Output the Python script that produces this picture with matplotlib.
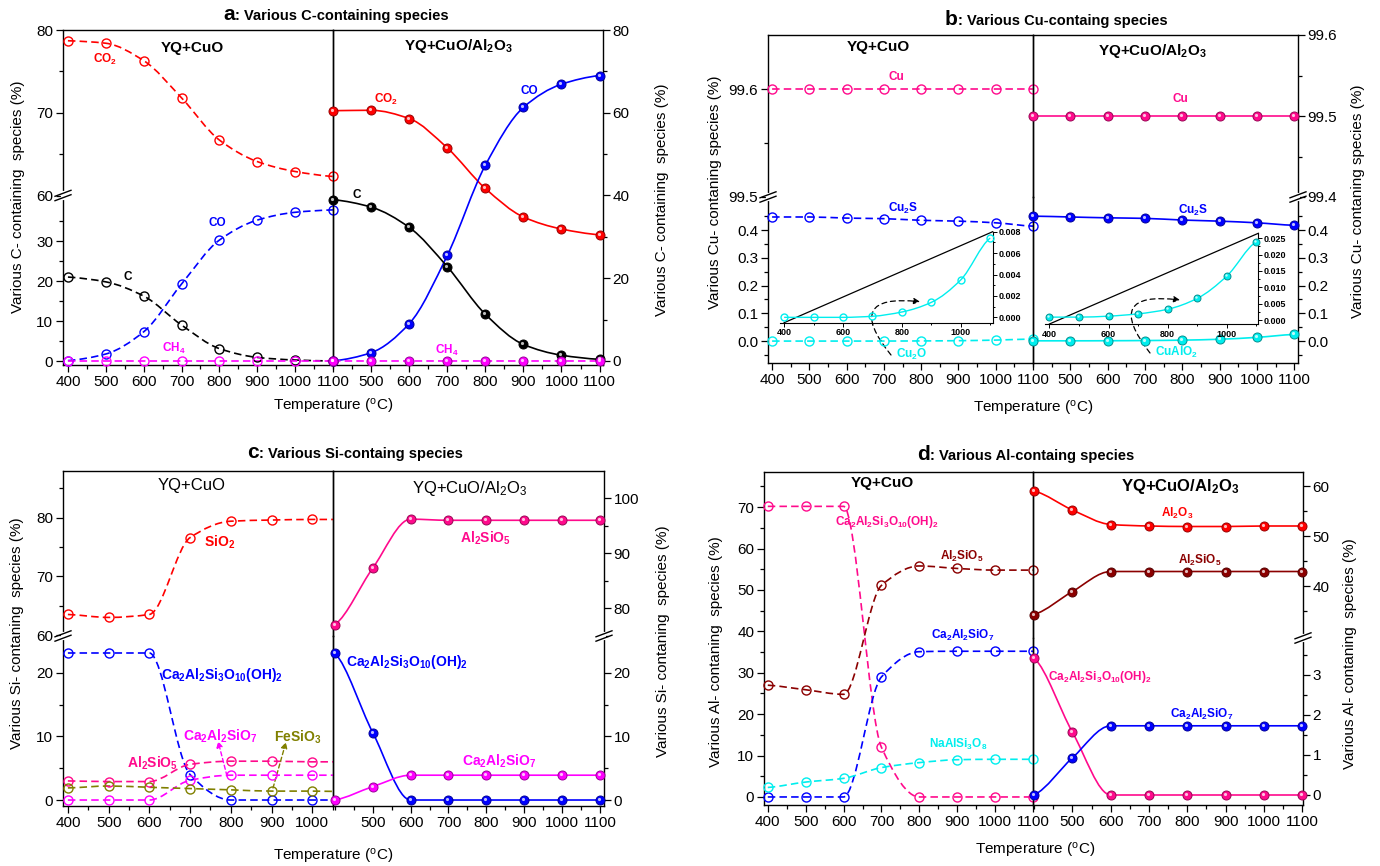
import numpy as np
import matplotlib.pyplot as plt
from matplotlib.path import Path
from matplotlib.patches import PathPatch
from matplotlib.lines import Line2D
from matplotlib.ticker import MultipleLocator, FixedLocator, FormatStrFormatter
import matplotlib.transforms as mtransforms

plt.rcParams['font.family'] = ['Liberation Sans', 'DejaVu Sans']
plt.rcParams['mathtext.fontset'] = 'custom'
plt.rcParams['mathtext.rm'] = 'Liberation Sans'
plt.rcParams['mathtext.default'] = 'regular'

# ---- data (temperature in oC, values in %) ----
T = [400, 500, 600, 700, 800, 900, 1000, 1100]

# a: C-containing species
a_co2_1 = [78.7, 78.4, 76.3, 71.8, 66.7, 64.1, 62.9, 62.3]
a_co_1 = [0.1, 1.75, 7.3, 19.25, 30.25, 35.25, 37.2, 37.8]
a_c_1 = [21.0, 19.8, 16.25, 9.0, 3.1, 0.9, 0.25, 0.0]
a_ch4_1 = [0, 0, 0, 0, 0, 0, 0, 0]
a_co2_2 = [60.5, 60.6, 58.6, 51.5, 41.7, 34.8, 31.9, 30.5]
a_co_2 = [0.0, 2.0, 9.0, 25.5, 47.3, 61.3, 66.9, 69.0]
a_c_2 = [39.0, 37.2, 32.3, 22.8, 11.3, 4.0, 1.4, 0.4]
a_ch4_2 = [0, 0, 0, 0, 0, 0, 0, 0]

# b: Cu-containing species
b_cu_1 = [99.6, 99.6, 99.6, 99.6, 99.6, 99.6, 99.6, 99.6]
b_cu2s_1 = [0.447, 0.447, 0.443, 0.441, 0.435, 0.432, 0.426, 0.414]
b_cu2o_1 = [0.0, 0.0, 0.0, 0.0001, 0.0005, 0.0014, 0.0035, 0.0074]
b_cu_2 = [99.5, 99.5, 99.5, 99.5, 99.5, 99.5, 99.5, 99.5]
b_cu2s_2 = [0.450, 0.447, 0.444, 0.442, 0.436, 0.432, 0.426, 0.417]
b_cualo2_2 = [0.0009, 0.0009, 0.0012, 0.0019, 0.0033, 0.0066, 0.0134, 0.0239]

# c: Si-containing species
c_sio2_1 = [63.5, 63.0, 63.5, 76.6, 79.4, 79.6, 79.7, 79.7]
c_prehn_1 = [23.1, 23.1, 23.1, 4.0, 0.0, 0.0, 0.0, 0.0]
c_al2sio5_1 = [3.0, 2.9, 2.9, 5.6, 6.1, 6.1, 6.0, 6.0]
c_gehl_1 = [0.0, 0.0, 0.0, 3.1, 3.9, 3.9, 3.9, 3.9]
c_fesio3_1 = [1.9, 2.2, 2.0, 1.8, 1.6, 1.4, 1.4, 1.3]
c_al2sio5_2 = [77.0, 87.3, 96.2, 96.0, 96.0, 96.0, 96.0, 96.0]
c_prehn_2 = [23.1, 10.6, 0.0, 0.0, 0.0, 0.0, 0.0, 0.0]
c_gehl_2 = [0.0, 2.1, 3.9, 3.9, 3.9, 3.9, 3.9, 3.9]

# d: Al-containing species
d_prehn_1 = [70.2, 70.2, 70.2, 12.0, 0.0, 0.0, 0.0, 0.0]
d_al2sio5_1 = [27.0, 25.9, 24.8, 51.1, 55.8, 55.2, 54.8, 54.8]
d_gehl_1 = [0.0, 0.0, 0.0, 29.0, 35.1, 35.2, 35.2, 35.2]
d_albite_1 = [2.3, 3.6, 4.5, 7.1, 8.3, 9.0, 9.1, 9.1]
d_al2o3_2 = [59.0, 55.2, 52.3, 52.0, 51.9, 51.9, 52.0, 52.0]
d_al2sio5_2 = [34.3, 38.9, 42.9, 42.9, 42.9, 42.9, 42.9, 42.9]
d_prehn_2 = [3.43, 1.57, 0.0, 0.0, 0.0, 0.0, 0.0, 0.0]
d_gehl_2 = [0.0, 0.93, 1.73, 1.73, 1.73, 1.73, 1.73, 1.73]

RED = '#FF0000'
BLUE = '#0000FF'
MAG = '#FF00FF'
PINK = '#FF0A8C'
CYAN = '#00EEEE'
DRED = '#8B0000'
OLIVE = '#808000'
DASH = (0, (4.5, 2.5))

W, H = 1380, 866
fig = plt.figure(figsize=(W / 100, H / 100), dpi=100)


def new_ax(x0, y0, x1, y1):
    ax = fig.add_axes([x0 / W, 1 - y1 / H, (x1 - x0) / W, (y1 - y0) / H])
    ax.set_facecolor('none')
    return ax


def style(ax, side, seg, xlim, ylim, major, minor, fmt='%d', xticks=None):
    ax.set_xlim(*xlim)
    ax.set_ylim(*ylim)
    for s in ax.spines.values():
        s.set_linewidth(1.0)
    ax.tick_params(which='both', direction='out', labelsize=11, width=0.9, pad=2)
    ax.tick_params(which='major', length=5)
    ax.tick_params(which='minor', length=3)
    ax.yaxis.set_major_locator(FixedLocator(major))
    ax.yaxis.set_minor_locator(FixedLocator(minor))
    ax.yaxis.set_major_formatter(FormatStrFormatter(fmt))
    if side == 'L':
        ax.tick_params(axis='y', which='both', left=True, right=False,
                       labelleft=True, labelright=False)
    else:
        ax.tick_params(axis='y', which='both', left=False, right=True,
                       labelleft=False, labelright=True)
    if seg == 'top':
        ax.spines['bottom'].set_visible(False)
        ax.tick_params(axis='x', which='both', bottom=False, top=False, labelbottom=False)
    else:
        if seg == 'bot':
            ax.spines['top'].set_visible(False)
        ax.tick_params(axis='x', which='both', top=False)
        ax.xaxis.set_major_locator(FixedLocator(xticks))
        ax.xaxis.set_minor_locator(MultipleLocator(50))


def mono_path(xs, ys):
    xs = np.asarray(xs, float)
    ys = np.asarray(ys, float)
    n = len(xs)
    h = np.diff(xs)
    d = np.diff(ys) / h
    m = np.zeros(n)
    m[0] = d[0] * 0.5
    m[-1] = d[-1] * 0.5
    for i in range(1, n - 1):
        if d[i - 1] * d[i] > 0:
            w1 = 2 * h[i] + h[i - 1]
            w2 = h[i] + 2 * h[i - 1]
            m[i] = (w1 + w2) / (w1 / d[i - 1] + w2 / d[i])
    verts = [(xs[0], ys[0])]
    codes = [Path.MOVETO]
    for i in range(n - 1):
        verts += [(xs[i] + h[i] / 3, ys[i] + m[i] * h[i] / 3),
                  (xs[i + 1] - h[i] / 3, ys[i + 1] - m[i + 1] * h[i] / 3),
                  (xs[i + 1], ys[i + 1])]
        codes += [Path.CURVE4] * 3
    return Path(verts, codes)


def shade(c, f=0.6):
    r, g, b, _ = plt.matplotlib.colors.to_rgba(c)
    return (r * f, g * f, b * f)


def curve(ax, x, y, color, ls, filled, ms=6.5, lw=1.2):
    ax.add_patch(PathPatch(mono_path(x, y), fill=False, ec=color, lw=lw, ls=ls, zorder=3))
    lo, hi = ax.get_xlim()
    xs = [a for a in x if lo - 5 <= a <= hi + 5]
    ys = [b for a, b in zip(x, y) if lo - 5 <= a <= hi + 5]
    if filled:
        ax.plot(xs, ys, 'o', ms=ms, mfc=color, mec=shade(color), mew=0.7,
                clip_on=False, zorder=5)
        off = mtransforms.ScaledTranslation(-1.0 / 100, 1.0 / 100, fig.dpi_scale_trans)
        ax.plot(xs, ys, 'o', ms=ms * 0.35, mfc='white', mec='none', alpha=0.75,
                clip_on=False, zorder=6, transform=ax.transData + off)
    else:
        ax.plot(xs, ys, 'o', ms=ms, mfc='none', mec=color, mew=1.0,
                clip_on=False, zorder=5)


def ft(x, y, s, **kw):
    kw.setdefault('ha', 'center')
    kw.setdefault('va', 'center')
    fig.text(x / W, 1 - y / H, s, **kw)


def brk(x, y):
    t = fig.transFigure
    fig.add_artist(Line2D([x / W, x / W], [1 - (y - 2.2) / H, 1 - (y + 2.2) / H],
                          color='white', lw=3, transform=t, zorder=20))
    for dy in (-2.2, 2.2):
        fig.add_artist(Line2D([(x - 8) / W, (x + 8) / W],
                              [1 - (y + dy + 3) / H, 1 - (y + dy - 3) / H],
                              color='black', lw=1.0, transform=t, zorder=21))


def title(x, y, letter, rest):
    ft(x, y, letter, ha='left', va='baseline', fontsize=15, fontweight='bold')
    ft(x + (13 if letter in 'bd' else 12), y, rest, ha='left', va='baseline',
       fontsize=10.5, fontweight='bold')


def inset(x0, y0, x1, y1, xlim, ylim, ystep, fmt):
    ax = new_ax(x0, y0, x1, y1)
    ax.set_xlim(*xlim)
    ax.set_ylim(*ylim)
    ax.spines['left'].set_visible(False)
    ax.spines['top'].set_visible(False)
    for s in ('bottom', 'right'):
        ax.spines[s].set_linewidth(0.8)
    ax.xaxis.set_major_locator(FixedLocator([400, 600, 800, 1000]))
    ax.xaxis.set_minor_locator(FixedLocator([500, 700, 900, 1100]))
    ax.yaxis.set_major_locator(MultipleLocator(ystep))
    ax.yaxis.set_minor_locator(MultipleLocator(ystep / 2))
    ax.yaxis.set_major_formatter(FormatStrFormatter(fmt))
    ax.tick_params(which='both', direction='out', labelsize=6.5, width=0.7, pad=1)
    ax.tick_params(which='major', length=3)
    ax.tick_params(which='minor', length=1.5)
    ax.tick_params(axis='y', which='both', left=False, right=True,
                   labelleft=False, labelright=True)
    ax.tick_params(axis='x', which='both', top=False)
    plt.setp(ax.get_xticklabels(), fontweight='bold')
    plt.setp(ax.get_yticklabels(), fontweight='bold')
    ax.plot([400, xlim[1]], [ylim[0], ylim[1]], color='black', lw=0.9, clip_on=False)
    return ax


XT1 = [400, 500, 600, 700, 800, 900, 1000, 1100]
XT2 = [500, 600, 700, 800, 900, 1000, 1100]

# ================= panel a =================
aLt = new_ax(63, 30, 333, 195.5)
aLb = new_ax(63, 195.5, 333, 365)
aR = new_ax(333, 30, 603, 365)
style(aLt, 'L', 'top', (387, 1100), (60, 80), [60, 70, 80], [65, 75])
style(aLb, 'L', 'bot', (387, 1100), (-1.0, 41.4), [0, 10, 20, 30], [5, 15, 25, 35], xticks=XT1)
style(aR, 'R', 'full', (400, 1109), (-0.97, 80), [0, 20, 40, 60, 80],
      [10, 30, 50, 70], xticks=XT2)

curve(aLt, T, a_co2_1, RED, DASH, False)
curve(aLb, T, a_co_1, BLUE, DASH, False)
curve(aLb, T, a_c_1, 'black', DASH, False)
curve(aLb, T, a_ch4_1, MAG, DASH, False)
curve(aR, T, a_co2_2, RED, '-', True)
curve(aR, T, a_co_2, BLUE, '-', True)
curve(aR, T, a_c_2, 'black', '-', True)
curve(aR, T, a_ch4_2, MAG, DASH, True)
brk(63, 195.5)

title(223, 20, 'a', ': Various C-containing species')
ft(192, 48, 'YQ+CuO', fontsize=11, fontweight='bold')
ft(458, 46, 'YQ+CuO/Al$_2$O$_3$', fontsize=11, fontweight='bold')
ft(105, 59, 'CO$_2$', color=RED, fontsize=8.5, fontweight='bold')
ft(217, 223, 'CO', color=BLUE, fontsize=8.5, fontweight='bold')
ft(128, 277, 'C', color='black', fontsize=8.5, fontweight='bold')
ft(174, 348, 'CH$_4$', color=MAG, fontsize=8.5, fontweight='bold')
ft(386, 99, 'CO$_2$', color=RED, fontsize=8.5, fontweight='bold')
ft(529, 91, 'CO', color=BLUE, fontsize=8.5, fontweight='bold')
ft(357, 195, 'C', color='black', fontsize=8.5, fontweight='bold')
ft(447, 350, 'CH$_4$', color=MAG, fontsize=8.5, fontweight='bold')
ft(18, 197, 'Various C- containing  species (%)', rotation=90, fontsize=11)
ft(662, 200, 'Various C- containing  species (%)', rotation=90, fontsize=11)
ft(333, 407, 'Temperature ($^o$C)', fontsize=11)

# ================= panel b =================
bLt = new_ax(768, 35, 1033, 197)
bLb = new_ax(768, 197, 1033, 363)
bRt = new_ax(1033, 35, 1298, 197)
bRb = new_ax(1033, 197, 1298, 363)
style(bLt, 'L', 'top', (389, 1100), (99.5, 99.65), [99.5, 99.6], [99.55], fmt='%.1f')
style(bLb, 'L', 'bot', (389, 1100), (-0.079, 0.519), [0.0, 0.1, 0.2, 0.3, 0.4],
      [-0.05, 0.05, 0.15, 0.25, 0.35, 0.45], fmt='%.1f', xticks=XT1)
style(bRt, 'R', 'top', (400, 1110), (99.4, 99.6), [99.4, 99.5, 99.6], [99.45, 99.55], fmt='%.1f')
style(bRb, 'R', 'bot', (400, 1110), (-0.079, 0.519), [0.0, 0.1, 0.2, 0.3, 0.4],
      [-0.05, 0.05, 0.15, 0.25, 0.35, 0.45], fmt='%.1f', xticks=XT2)

curve(bLt, T, b_cu_1, PINK, DASH, False)
curve(bLb, T, b_cu2s_1, BLUE, DASH, False)
curve(bLb, T, b_cu2o_1, CYAN, DASH, False)
curve(bRt, T, b_cu_2, PINK, '-', True)
curve(bRb, T, b_cu2s_2, BLUE, '-', True)
curve(bRb, T, b_cualo2_2, CYAN, '-', True)
brk(768, 197)
brk(1298, 197)

bIL = inset(780, 231.7, 992.7, 322.7, (386, 1108.5), (-0.0005, 0.008), 0.002, '%.3f')
curve(bIL, T, b_cu2o_1, CYAN, '-', False, ms=5, lw=1.0)
bIR = inset(1045, 233.3, 1258.3, 324, (385, 1107), (-0.0012, 0.0265), 0.005, '%.3f')
curve(bIR, T, b_cualo2_2, CYAN, '-', True, ms=5, lw=1.0)

arrow_kw = dict(arrowstyle='-|>', ls=(0, (4, 3)), lw=0.9, color='black',
                connectionstyle='arc3,rad=-1.2', shrinkA=0, shrinkB=0, mutation_scale=9)
bLb.annotate('', xy=(920, H - 301.7), xycoords='figure pixels',
             xytext=(891, H - 355), textcoords='figure pixels', arrowprops=arrow_kw)
bRb.annotate('', xy=(1180, H - 300), xycoords='figure pixels',
             xytext=(1150, H - 353), textcoords='figure pixels', arrowprops=arrow_kw)

title(945, 25, 'b', ': Various Cu-containg species')
ft(878, 47, 'YQ+CuO', fontsize=11, fontweight='bold')
ft(1152, 51, 'YQ+CuO/Al$_2$O$_3$', fontsize=11, fontweight='bold')
ft(896, 77, 'Cu', color=PINK, fontsize=8.5, fontweight='bold')
ft(903, 208, 'Cu$_2$S', color=BLUE, fontsize=8.5, fontweight='bold')
ft(912, 354, 'Cu$_2$O', color=CYAN, fontsize=8.5, fontweight='bold')
ft(1180, 99, 'Cu', color=PINK, fontsize=8.5, fontweight='bold')
ft(1193, 210, 'Cu$_2$S', color=BLUE, fontsize=8.5, fontweight='bold')
ft(1176, 352, 'CuAlO$_2$', color=CYAN, fontsize=8.5, fontweight='bold')
ft(715, 192, 'Various Cu- contaning species (%)', rotation=90, fontsize=11)
ft(1358, 201, 'Various Cu- contaning species (%)', rotation=90, fontsize=11)
ft(1033, 408, 'Temperature ($^o$C)', fontsize=11)

# ================= panel c =================
cLt = new_ax(63, 471, 333, 636)
cLb = new_ax(63, 636, 333, 806)
cRt = new_ax(333, 471, 604, 636)
cRb = new_ax(333, 636, 604, 806)
style(cLt, 'L', 'top', (388, 1051), (59.83, 87.96), [60, 70, 80], [65, 75, 85])
style(cLb, 'L', 'bot', (388, 1051), (-0.94, 25.77), [0, 10, 20], [5, 15],
      xticks=[400, 500, 600, 700, 800, 900, 1000])
style(cRt, 'R', 'top', (395, 1111), (74.96, 104.96), [80, 90, 100], [75, 85, 95])
style(cRb, 'R', 'bot', (395, 1111), (-0.94, 25.77), [0, 10, 20], [5, 15], xticks=XT2)

curve(cLt, T, c_sio2_1, RED, DASH, False)
curve(cLb, T, c_prehn_1, BLUE, DASH, False)
curve(cLb, T, c_al2sio5_1, PINK, DASH, False)
curve(cLb, T, c_gehl_1, MAG, DASH, False)
curve(cLb, T, c_fesio3_1, OLIVE, DASH, False)
curve(cRt, T, c_al2sio5_2, PINK, '-', True)
curve(cRb, T, c_prehn_2, BLUE, '-', True)
curve(cRb, T, c_gehl_2, MAG, '-', True)
brk(63, 636)
brk(604, 636)

cLb.annotate('', xy=(218, H - 741), xycoords='figure pixels', xytext=(227, H - 776),
             textcoords='figure pixels',
             arrowprops=dict(arrowstyle='-|>', ls=(0, (3, 2)), lw=1.0, color=MAG,
                             shrinkA=0, shrinkB=0, mutation_scale=9))
cLb.annotate('', xy=(286, H - 742), xycoords='figure pixels', xytext=(273, H - 788),
             textcoords='figure pixels',
             arrowprops=dict(arrowstyle='-|>', ls=(0, (3, 2)), lw=1.0, color=OLIVE,
                             shrinkA=0, shrinkB=0, mutation_scale=9))

title(247, 458, 'c', ': Various Si-containg species')
ft(192, 485, 'YQ+CuO', fontsize=12)
ft(470, 488, 'YQ+CuO/Al$_2$O$_3$', fontsize=12)
ft(220, 542, 'SiO$_2$', color=RED, fontsize=10, fontweight='bold')
ft(222, 675, 'Ca$_2$Al$_2$Si$_3$O$_{10}$(OH)$_2$', color=BLUE, fontsize=10, fontweight='bold')
ft(153, 763, 'Al$_2$SiO$_5$', color=PINK, fontsize=10, fontweight='bold')
ft(220, 736, 'Ca$_2$Al$_2$SiO$_7$', color=MAG, fontsize=10, fontweight='bold')
ft(298, 737, 'FeSiO$_3$', color=OLIVE, fontsize=10, fontweight='bold')
ft(486, 538, 'Al$_2$SiO$_5$', color=PINK, fontsize=10, fontweight='bold')
ft(407, 662, 'Ca$_2$Al$_2$Si$_3$O$_{10}$(OH)$_2$', color=BLUE, fontsize=10, fontweight='bold')
ft(499, 761, 'Ca$_2$Al$_2$SiO$_7$', color=MAG, fontsize=10, fontweight='bold')
ft(17, 633, 'Various Si- contaning  species (%)', rotation=90, fontsize=11)
ft(663, 641, 'Various Si- contaning  species (%)', rotation=90, fontsize=11)
ft(333, 857, 'Temperature ($^o$C)', fontsize=11)

# ================= panel d =================
dL = new_ax(764, 472, 1033, 805)
dRt = new_ax(1033, 472, 1303, 638)
dRb = new_ax(1033, 638, 1303, 805)
style(dL, 'L', 'full', (390, 1100), (-1.94, 78.5), list(range(0, 80, 10)),
      list(range(5, 80, 10)), xticks=XT1)
style(dRt, 'R', 'top', (397, 1102), (29.6, 62.8), [40, 50, 60], [35, 45, 55])
style(dRb, 'R', 'bot', (397, 1102), (-0.25, 3.925), [0, 1, 2, 3], [0.5, 1.5, 2.5, 3.5],
      xticks=XT2)

curve(dL, T, d_prehn_1, PINK, DASH, False)
curve(dL, T, d_al2sio5_1, DRED, DASH, False)
curve(dL, T, d_gehl_1, BLUE, DASH, False)
curve(dL, T, d_albite_1, CYAN, DASH, False)
curve(dRt, T, d_al2o3_2, RED, '-', True)
curve(dRt, T, d_al2sio5_2, DRED, '-', True)
curve(dRb, T, d_prehn_2, PINK, '-', True)
curve(dRb, T, d_gehl_2, BLUE, '-', True)
brk(1303, 638)

title(917, 460, 'd', ': Various Al-containg species')
ft(882, 483, 'YQ+CuO', fontsize=11, fontweight='bold')
ft(1180, 486, 'YQ+CuO/Al$_2$O$_3$', fontsize=12, fontweight='bold')
ft(887, 522, 'Ca$_2$Al$_2$Si$_3$O$_{10}$(OH)$_2$', color=PINK, fontsize=8.5, fontweight='bold')
ft(962, 556, 'Al$_2$SiO$_5$', color=DRED, fontsize=8.5, fontweight='bold')
ft(963, 635, 'Ca$_2$Al$_2$SiO$_7$', color=BLUE, fontsize=8.5, fontweight='bold')
ft(958, 744, 'NaAlSi$_3$O$_8$', color=CYAN, fontsize=8.5, fontweight='bold')
ft(1177, 513, 'Al$_2$O$_3$', color=RED, fontsize=8.5, fontweight='bold')
ft(1200, 560, 'Al$_2$SiO$_5$', color=DRED, fontsize=8.5, fontweight='bold')
ft(1100, 677, 'Ca$_2$Al$_2$Si$_3$O$_{10}$(OH)$_2$', color=PINK, fontsize=8.5, fontweight='bold')
ft(1202, 714, 'Ca$_2$Al$_2$SiO$_7$', color=BLUE, fontsize=8.5, fontweight='bold')
ft(716, 652, 'Various Al- contaning  species (%)', rotation=90, fontsize=11)
ft(1350, 654, 'Various Al- contaning  species (%)', rotation=90, fontsize=11)
ft(1035, 850, 'Temperature ($^o$C)', fontsize=11)

fig.savefig('out.png', dpi=100)
